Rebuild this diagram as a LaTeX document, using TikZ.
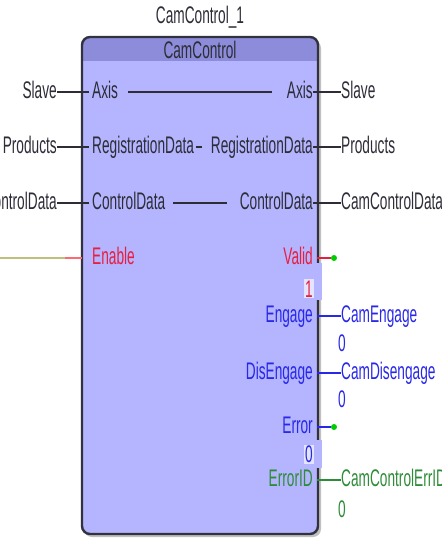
\documentclass[tikz,border=0pt]{standalone}
\usepackage{fontspec}
\setmainfont{Liberation Sans}[FakeStretch=0.57]
\definecolor{bodyfill}{RGB}{180,180,255}
\definecolor{headfill}{RGB}{140,140,218}
\definecolor{frame}{RGB}{50,50,62}
\definecolor{ink}{RGB}{45,45,55}
\definecolor{sigred}{RGB}{232,30,62}
\definecolor{pinkwire}{RGB}{255,105,115}
\definecolor{olivewire}{RGB}{192,192,125}
\definecolor{sigblue}{RGB}{40,40,232}
\definecolor{siggreen}{RGB}{45,140,55}
\definecolor{dotgreen}{RGB}{0,205,0}
\definecolor{patch}{RGB}{228,228,255}
\begin{document}
\begin{tikzpicture}[x=1pt,y=-1pt,
  lbl/.style={inner sep=0pt,font=\fontsize{24}{24}\selectfont,text=ink},
  wire/.style={line width=1.5pt,draw=ink},
  pindot/.style={circle,fill=dotgreen,inner sep=0pt,minimum size=6pt},
  lift/.style={yshift=6.5pt}]
\useasboundingbox (0,0) rectangle (442,539);
\clip (0,0) rectangle (442,539);

% function block: shadow, body, header band, frame
\fill[black!45,opacity=0.55,rounded corners=8pt] (84,40) rectangle (321,537);
\fill[bodyfill,rounded corners=8pt] (82,37) rectangle (318,534);
\begin{scope}
  \clip[rounded corners=8pt] (82,37) rectangle (318,534);
  \fill[headfill] (82,37) rectangle (318,61);
\end{scope}
\draw[frame,line width=2.4pt,rounded corners=8pt] (82,37) rectangle (318,534);
% breaks in the right edge beside the status values
\fill[bodyfill] (316,263) rectangle (321.5,300);
\fill[bodyfill] (316,440) rectangle (321.5,468);

% titles
\node[lbl,anchor=base] (inst) at (200,23) {CamControl\_1};
\node[lbl,anchor=base] (ftype) at (200,58.5) {CamControl};

% Axis row
\node[lbl,anchor=base east] (slaveL) at (57,98.5) {Slave};
\node[lbl,anchor=base west] (axisIn) at (92,98.5) {Axis};
\node[lbl,anchor=base east] (axisOut) at (313,98.5) {Axis};
\node[lbl,anchor=base west] (slaveR) at (341,98.5) {Slave};
\draw[wire] ([lift]slaveL.base east) -- ([lift,xshift=-3pt]axisIn.base west);
\draw[wire,shorten <=10pt,shorten >=15pt] ([lift]axisIn.base east) -- ([lift]axisOut.base west);
\draw[wire] ([lift]axisOut.base east) -- ([lift]slaveR.base west);

% RegistrationData row
\node[lbl,anchor=base east] (prodL) at (57,153.5) {Products};
\node[lbl,anchor=base west] (regIn) at (92,153.5) {RegistrationData};
\node[lbl,anchor=base east] (regOut) at (313,153.5) {RegistrationData};
\node[lbl,anchor=base west] (prodR) at (341,153.5) {Products};
\draw[wire] ([lift]prodL.base east) -- ([lift,xshift=-3pt]regIn.base west);
\draw[wire,shorten <=2pt,shorten >=9pt] ([lift]regIn.base east) -- ([lift]regOut.base west);
\draw[wire] ([lift]regOut.base east) -- ([lift]prodR.base west);

% ControlData row
\node[lbl,anchor=base east] (ctlL) at (57,209.5) {CamControlData};
\node[lbl,anchor=base west] (ctlIn) at (92,209.5) {ControlData};
\node[lbl,anchor=base east] (ctlOut) at (313,209.5) {ControlData};
\node[lbl,anchor=base west] (ctlR) at (341,209.5) {CamControlData};
\draw[wire] ([lift]ctlL.base east) -- ([lift,xshift=-3pt]ctlIn.base west);
\draw[wire,shorten <=8pt,shorten >=13pt] ([lift]ctlIn.base east) -- ([lift]ctlOut.base west);
\draw[wire] ([lift]ctlOut.base east) -- ([lift]ctlR.base west);

% Enable / Valid row
\coordinate (enSrc) at (0,258);
\coordinate (enJoin) at (65,258);
\node[lbl,anchor=base west,text=sigred] (enable) at (92,264.5) {Enable};
\draw[line width=2.4pt,olivewire] (enSrc) -- (enJoin);
\draw[line width=2.4pt,pinkwire,shorten >=10pt] (enJoin) -- ([lift]enable.base west);
\node[lbl,anchor=base east,text=sigred] (valid) at (313,264.5) {Valid};
\node[pindot] (validDot) at (334,258) {};
\draw[line width=1.7pt,sigred,shorten <=4pt] ([lift]valid.base east) -- (validDot);
\node[lbl,anchor=base east,text=sigred,fill=patch,inner xsep=1pt,inner ysep=1pt] (validVal) at (314,297) {1};

% Engage row
\node[lbl,anchor=base east,text=sigblue] (engage) at (313,322.5) {Engage};
\node[lbl,anchor=base west,text=sigblue] (camEngage) at (341,322.5) {CamEngage};
\draw[line width=1.5pt,sigblue] ([lift,xshift=4pt]engage.base east) -- ([lift]camEngage.base west);
\node[lbl,anchor=base west,text=sigblue] (engageVal) at (338,351.5) {0};

% DisEngage row
\node[lbl,anchor=base east,text=sigblue] (disengage) at (313,379.5) {DisEngage};
\node[lbl,anchor=base west,text=sigblue] (camDisengage) at (341,379.5) {CamDisengage};
\draw[line width=1.5pt,sigblue] ([lift,xshift=4pt]disengage.base east) -- ([lift]camDisengage.base west);
\node[lbl,anchor=base west,text=sigblue] (disengageVal) at (338,407.5) {0};

% Error row
\node[lbl,anchor=base east,text=sigblue] (error) at (313,433.5) {Error};
\node[pindot] (errorDot) at (334,427) {};
\draw[line width=1.7pt,sigblue,shorten <=4pt] ([lift]error.base east) -- (errorDot);
\node[lbl,anchor=base east,text=sigblue,fill=patch,inner xsep=1pt,inner ysep=1pt] (errorVal) at (314,462.5) {0};

% ErrorID row
\node[lbl,anchor=base east,text=siggreen] (errorID) at (313,486.5) {ErrorID};
\node[lbl,anchor=base west,text=siggreen] (camErr) at (341,486.5) {CamControlErrID};
\draw[line width=1.5pt,siggreen] ([lift,xshift=4pt]errorID.base east) -- ([lift]camErr.base west);
\node[lbl,anchor=base west,text=siggreen] (errorIDVal) at (338,517.5) {0};
\end{tikzpicture}
\end{document}
